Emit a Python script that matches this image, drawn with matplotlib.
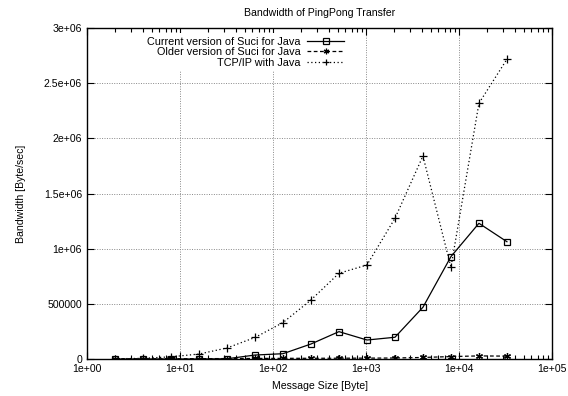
import matplotlib
matplotlib.use("Agg")
import matplotlib.pyplot as plt
import matplotlib.ticker as mticker
import numpy as np

plt.rcParams['font.family'] = ['Liberation Sans', 'DejaVu Sans']

# message sizes in byte
sizes = [2, 4, 8, 16, 32, 64, 128, 256, 512, 1024, 2048, 4096, 8192, 16384, 32768]

current = [0, 0, 0, 0, 2000, 36000, 48000, 136000, 248000, 172000, 197000,
           469000, 928000, 1230000, 1063000]
older = [1000, 1500, 2000, 3000, 4000, 5000, 6000, 6500, 7000, 8000, 9000,
         14000, 22000, 28000, 26000]
tcpip = [2000, 6000, 20000, 45000, 100000, 195000, 330000, 535000, 777000,
         852000, 1275000, 1840000, 831000, 2318000, 2717000]

fig = plt.figure(figsize=(5.68, 3.96), dpi=100)
ax = fig.add_axes([87/568, 1-359/396, (552-87)/568, (359-28)/396])

ax.plot(sizes, current, color='black', lw=0.9, ls='-', marker='s', ms=5,
        mfc='none', mew=0.9, label='Current version of Suci for Java')
ax.plot(sizes, older, color='black', lw=0.9, ls=(0, (3, 2)), marker=(6, 2, 0), ms=5,
        mew=0.9, label='Older version of Suci for Java')
ax.plot(sizes, tcpip, color='black', lw=0.9, ls=(0, (1, 2)), marker='+', ms=6,
        mew=0.9, label='TCP/IP with Java')

ax.set_xscale('log')
ax.set_xlim(1, 1e5)
ax.set_ylim(0, 3e6)
ax.xaxis.set_major_locator(mticker.LogLocator(base=10, numticks=10))
ax.xaxis.set_minor_locator(mticker.LogLocator(base=10, subs=np.arange(2, 10), numticks=10))
ax.xaxis.set_major_formatter(mticker.FuncFormatter(lambda v, p: '%.0e' % v))
ax.xaxis.set_minor_formatter(mticker.NullFormatter())
ax.yaxis.set_major_locator(mticker.MultipleLocator(500000))
ax.yaxis.set_major_formatter(mticker.FuncFormatter(lambda v, p: '%g' % v))

ax.tick_params(which='both', direction='in', top=True, right=True, labelsize=7.6, width=0.8)
ax.tick_params(which='major', length=5)
ax.tick_params(which='minor', length=3)
ax.grid(True, which='major', color='#888888', ls=(0, (1, 1.5)), lw=0.7)
for s in ax.spines.values():
    s.set_linewidth(1.0)

ax.set_title('Bandwidth of PingPong Transfer', fontsize=7.6, pad=9)
ax.set_xlabel('Message Size [Byte]', fontsize=7.6, labelpad=5)
ax.set_ylabel('Bandwidth [Byte/sec]', fontsize=7.6, labelpad=13)

# markerfirst=False puts the sample right of the (right-aligned) label, like gnuplot
leg = ax.legend(loc='upper right', bbox_to_anchor=(0.572, 1.0), frameon=True,
                markerfirst=False, fontsize=7.8, handlelength=3.4, handletextpad=0.6,
                labelspacing=0.05, borderpad=0.3, markerscale=0.8)
leg.get_frame().set_edgecolor('none')
leg.get_frame().set_facecolor('white')
leg.get_frame().set_alpha(1)

fig.savefig('out.png', dpi=100)
